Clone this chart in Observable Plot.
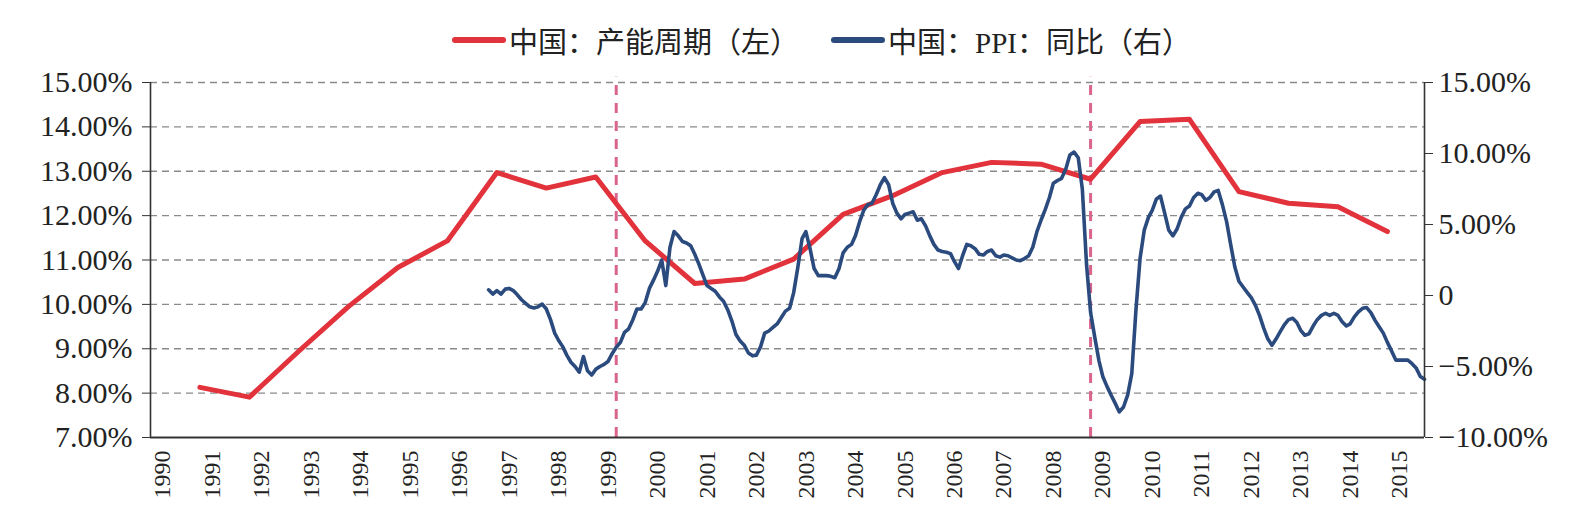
<!DOCTYPE html>
<html>
<head>
<meta charset="utf-8">
<script src="https://cdn.jsdelivr.net/npm/d3@7"></script>
<script src="https://cdn.jsdelivr.net/npm/@observablehq/plot@0.6"></script>
<style>
  html, body { margin: 0; padding: 0; background: #fff; }
  #wrap { position: relative; width: 1586px; height: 526px; }
  #legend { position: absolute; left: 0; top: 0; width: 1586px; height: 60px;
    font-family: "Liberation Serif", "Noto Sans CJK SC", serif; font-size: 29px; color: #222; }
  .item { position: absolute; top: 24px; display: flex; align-items: center; height: 32px; }
  .swatch { width: 54px; height: 6px; border-radius: 3px; margin-right: 3px; }
  #chart { position: absolute; left: 0; top: 60px; }
</style>
</head>
<body>
<div id="wrap">
  <div id="legend">
    <div class="item" style="left:452px"><span class="swatch" style="background:#e2323b"></span><span>中国：产能周期（左）</span></div>
    <div class="item" style="left:831px"><span class="swatch" style="background:#2b4a7e"></span><span>中国：PPI：同比（右）</span></div>
  </div>
  <div id="chart"></div>
</div>
<script>
// Capacity cycle (left axis, %), one reading per year, plotted at December
const capacityYears = [1990, 1991, 1992, 1993, 1994, 1995, 1996, 1997, 1998, 1999, 2000, 2001, 2002,
  2003, 2004, 2005, 2006, 2007, 2008, 2009, 2010, 2011, 2012, 2013, 2014];
const capacityValues = [8.13, 7.91, 8.95, 9.95, 10.83, 11.43, 12.97, 12.62, 12.87, 11.43, 10.47, 10.57, 11.02,
  12.03, 12.45, 12.97, 13.2, 13.16, 12.82, 14.12, 14.17, 12.54, 12.28, 12.2, 11.64];

// PPI year-on-year (right axis, %), monthly from October 1996
const ppiStartYear = 1996;
const ppiStartMonth = 10;
const ppiValues = [
  0.4, 0.1, 0.35,                                                        // 1996 Oct-Dec
  0.1, 0.45, 0.5, 0.35, 0.05, -0.3, -0.55, -0.8, -0.88, -0.8, -0.6, -0.95, // 1997
  -1.7, -2.65, -3.15, -3.6, -4.2, -4.7, -5.0, -5.4, -4.3, -5.3, -5.6, -5.2, // 1998
  -5.0, -4.85, -4.65, -4.1, -3.65, -3.3, -2.6, -2.35, -1.7, -0.95, -0.95, -0.5, // 1999
  0.5, 1.1, 1.7, 2.5, 0.7, 3.4, 4.5, 4.2, 3.8, 3.7, 3.5, 2.9,             // 2000
  2.2, 1.4, 0.7, 0.5, 0.3, -0.1, -0.4, -1.0, -1.8, -2.75, -3.2, -3.5,     // 2001
  -4.05, -4.25, -4.2, -3.6, -2.65, -2.5, -2.25, -2.0, -1.55, -1.1, -0.9, 0.2, // 2002
  2.0, 4.0, 4.5, 3.3, 1.9, 1.4, 1.4, 1.4, 1.35, 1.25, 1.9, 3.0,           // 2003
  3.4, 3.6, 4.2, 5.2, 6.0, 6.4, 6.5, 7.1, 7.8, 8.3, 7.8, 6.5,             // 2004
  5.8, 5.4, 5.7, 5.8, 5.9, 5.3, 5.4, 4.9, 4.2, 3.6, 3.2, 3.1,             // 2005
  3.05, 2.95, 2.4, 1.9, 2.8, 3.6, 3.5, 3.3, 2.9, 2.85, 3.1, 3.2,          // 2006
  2.8, 2.7, 2.85, 2.8, 2.65, 2.5, 2.45, 2.6, 2.8, 3.4, 4.5, 5.3,          // 2007
  6.05, 6.9, 7.9, 8.1, 8.25, 8.9, 9.9, 10.1, 9.7, 7.5, 2.2, -1.2,         // 2008
  -2.95, -4.6, -5.7, -6.4, -7.0, -7.6, -8.2, -7.85, -7.0, -5.5, -1.0, 2.6, // 2009
  4.6, 5.5, 6.0, 6.8, 7.0, 5.8, 4.6, 4.2, 4.7, 5.5, 6.1, 6.3,             // 2010
  6.9, 7.2, 7.1, 6.7, 6.9, 7.3, 7.4, 6.4, 5.2, 3.6, 2.0, 1.0,             // 2011
  0.6, 0.2, -0.15, -0.7, -1.4, -2.3, -3.05, -3.5, -3.05, -2.55, -2.05, -1.7, // 2012
  -1.6, -1.9, -2.45, -2.8, -2.7, -2.15, -1.7, -1.4, -1.25, -1.4, -1.25, -1.4, // 2013
  -1.85, -2.15, -2.0, -1.5, -1.15, -0.9, -0.85, -1.2, -1.75, -2.2, -2.65, -3.3, // 2014
  -3.9, -4.55, -4.55, -4.55, -4.55, -4.8, -5.1, -5.7, -5.9               // 2015 Jan-Sep
];

// Axis ticks
const leftTicks = [7, 8, 9, 10, 11, 12, 13, 14, 15];
const gridTicks = [8, 9, 10, 11, 12, 13, 14, 15];
const rightTicks = [-10, -5, 0, 5, 10, 15];
const rightTickLabels = ["\u221210.00%", "\u22125.00%", "0", "5.00%", "10.00%", "15.00%"];
const yearLabels = [1990, 1991, 1992, 1993, 1994, 1995, 1996, 1997, 1998, 1999, 2000, 2001, 2002,
  2003, 2004, 2005, 2006, 2007, 2008, 2009, 2010, 2011, 2012, 2013, 2014, 2015];
// Dashed markers for the two cycle turning points
const dividerDates = ["1999-05", "2008-12"];

const capacity = capacityYears.map((y, i) => ({date: new Date(Date.UTC(y, 11, 1)), value: capacityValues[i]}));
const ppi = ppiValues.map((v, i) => ({date: new Date(Date.UTC(ppiStartYear, ppiStartMonth - 1 + i, 1)), value: v}));
const dividers = dividerDates.map(s => new Date(s + "-01T00:00:00Z"));
const yearTicks = yearLabels.map(y => new Date(Date.UTC(y, 2, 1)));

// Right axis (-10%..15%) mapped onto the left axis (7%..15%)
const leftMin = 7, leftMax = 15, rightMin = -10, rightMax = 15;
const toLeft = v => leftMin + (v - rightMin) * (leftMax - leftMin) / (rightMax - rightMin);

const xDomain = [new Date(Date.UTC(1989, 11, 1)), new Date(Date.UTC(2015, 8, 1))];
const font = "Liberation Serif, serif";

const chart = Plot.plot({
  width: 1586,
  height: 466,
  marginTop: 22,
  marginBottom: 89,
  marginLeft: 150,
  marginRight: 162,
  style: {fontFamily: font, fontSize: "24px", color: "#222", background: "#fff"},
  x: {type: "utc", domain: xDomain},
  y: {domain: [leftMin, leftMax]},
  marks: [
    Plot.ruleY(gridTicks, {stroke: "#8a8a8a", strokeWidth: 1.4, strokeDasharray: "7,5"}),
    Plot.ruleX(dividers, {y1: leftMin, y2: 15.12, stroke: "#d9648c", strokeWidth: 3, strokeDasharray: "10,8"}),
    Plot.line(capacity, {x: "date", y: "value", stroke: "#e2323b", strokeWidth: 5, strokeLinejoin: "round", strokeLinecap: "round"}),
    Plot.line(ppi, {x: "date", y: d => toLeft(d.value), stroke: "#2b4a7e", strokeWidth: 3.6, strokeLinejoin: "round", strokeLinecap: "round"}),
    Plot.ruleX([xDomain[0]], {stroke: "#333", strokeWidth: 1.6}),
    Plot.ruleX([xDomain[1]], {stroke: "#333", strokeWidth: 1.6}),
    Plot.ruleY([leftMin], {stroke: "#333", strokeWidth: 2}),
    Plot.axisY(leftTicks, {anchor: "left", tickSize: 8, tickPadding: 10, tickFormat: d => d.toFixed(2) + "%", fontSize: 30, stroke: "#333", label: null}),
    Plot.axisY(rightTicks.map(toLeft), {anchor: "right", tickSize: 8, tickPadding: 6,
      tickFormat: (d, i) => rightTickLabels[i], fontSize: 30, stroke: "#333", label: null}),
    Plot.axisX(yearTicks, {tickSize: 0, tickPadding: 13, tickRotate: -90, tickFormat: d => String(d.getUTCFullYear()), fontSize: 24, label: null})
  ]
});
document.getElementById("chart").appendChild(chart);
</script>
</body>
</html>
